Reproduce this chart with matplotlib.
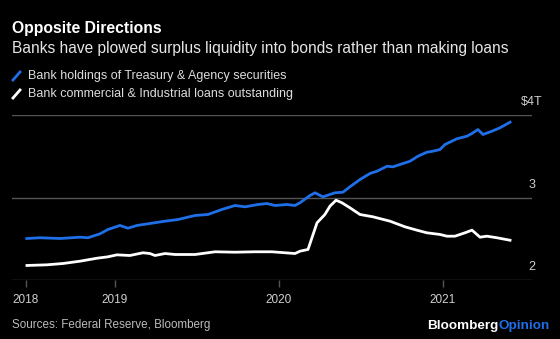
import matplotlib
matplotlib.use("Agg")
import matplotlib.pyplot as plt
from matplotlib.lines import Line2D

plt.rcParams['font.family'] = ['Liberation Sans', 'DejaVu Sans']

# bank holdings of Treasury & Agency securities ($T)
sec_x = [2018.462, 2018.543, 2018.665, 2018.787, 2018.835, 2018.909, 2018.957, 2019.030,
         2019.079, 2019.134, 2019.213, 2019.305, 2019.384, 2019.488, 2019.567, 2019.652,
         2019.732, 2019.793, 2019.872, 2019.927, 2019.976, 2020.049, 2020.098, 2020.128,
         2020.189, 2020.220, 2020.268, 2020.341, 2020.390, 2020.433, 2020.494, 2020.555,
         2020.598, 2020.659, 2020.695, 2020.738, 2020.799, 2020.848, 2020.902, 2020.939,
         2020.982, 2021.012, 2021.085, 2021.146, 2021.177, 2021.213, 2021.244, 2021.299,
         2021.348, 2021.409]
sec_y = [2.503, 2.512, 2.503, 2.519, 2.512, 2.560, 2.612, 2.661,
         2.628, 2.661, 2.685, 2.713, 2.733, 2.782, 2.794, 2.855,
         2.903, 2.887, 2.915, 2.927, 2.903, 2.915, 2.903, 2.936,
         3.024, 3.057, 3.008, 3.057, 3.064, 3.130, 3.218, 3.291,
         3.319, 3.379, 3.372, 3.400, 3.440, 3.501, 3.549, 3.561,
         3.582, 3.642, 3.712, 3.743, 3.776, 3.824, 3.764, 3.804,
         3.845, 3.913]

# commercial & industrial loans outstanding ($T)
loan_x = [2018.463, 2018.585, 2018.683, 2018.787, 2018.890, 2018.957, 2019.012, 2019.091,
          2019.171, 2019.213, 2019.244, 2019.305, 2019.366, 2019.488, 2019.610, 2019.732,
          2019.854, 2019.957, 2020.037, 2020.098, 2020.128, 2020.177, 2020.232, 2020.280,
          2020.311, 2020.348, 2020.384, 2020.433, 2020.494, 2020.573, 2020.677, 2020.768,
          2020.841, 2020.902, 2020.982, 2021.024, 2021.073, 2021.134, 2021.177, 2021.226,
          2021.268, 2021.329, 2021.409]
loan_y = [2.176, 2.184, 2.200, 2.228, 2.264, 2.281, 2.305, 2.297,
          2.330, 2.321, 2.297, 2.321, 2.309, 2.309, 2.342, 2.337,
          2.342, 2.342, 2.330, 2.321, 2.349, 2.370, 2.693, 2.794,
          2.895, 2.967, 2.936, 2.875, 2.794, 2.766, 2.713, 2.645,
          2.604, 2.572, 2.552, 2.531, 2.531, 2.572, 2.604, 2.519,
          2.531, 2.512, 2.482]

xticks = [2018.457, 2019, 2020, 2021]
xlabels = ['2018', '2019', '2020', '2021']
ylevels = [2, 3, 4]
ylabels = ['2', '3', '$4T']

BLUE = '#1f6fe8'
GRID = '#555555'

fig = plt.figure(figsize=(5.6, 3.39), dpi=100, facecolor='black')
ax = fig.add_axes([12 / 560, 1 - 280 / 339, 520 / 560, 165 / 339], facecolor='black')

for v in ylevels:
    ax.axhline(v, color=GRID, lw=1, zorder=1)
ax.plot(sec_x, sec_y, color=BLUE, lw=2, zorder=3, solid_joinstyle='round')
ax.plot(loan_x, loan_y, color='white', lw=2, zorder=3, solid_joinstyle='round')

ax.set_xlim(2018.372, 2021.543)
ax.set_ylim(2, 4)
for s in ax.spines.values():
    s.set_visible(False)
ax.set_yticks([])
ax.set_xticks(xticks)
ax.set_xticklabels(xlabels)
ax.tick_params(axis='x', colors=GRID, length=5, width=1, pad=5,
               labelcolor='#d0d0d0', labelsize=8.5)

tr = ax.get_yaxis_transform()
for v, lab in zip(ylevels, ylabels):
    ax.text(1.0, v + 0.08, lab, transform=tr, ha='center', va='bottom',
            color='#d0d0d0', fontsize=9)

fig.text(12 / 560, 1 - 29 / 339, 'Opposite Directions', color='white',
         fontsize=11.3, fontweight='bold', va='center')
fig.text(12 / 560, 1 - 48 / 339,
         'Banks have plowed surplus liquidity into bonds rather than making loans',
         color='#e6e6e6', fontsize=11.2, va='center')

for i, (c, lab) in enumerate([(BLUE, 'Bank holdings of Treasury & Agency securities'),
                              ('white', 'Bank commercial & Industrial loans outstanding')]):
    yc = 1 - (76 + 18 * i) / 339
    fig.add_artist(Line2D([13 / 560, 20 / 560], [yc - 4 / 339, yc + 4 / 339],
                          color=c, lw=2, transform=fig.transFigure))
    fig.text(28 / 560, yc, lab, color='#dddddd', fontsize=9, va='center')

fig.text(12 / 560, 1 - 325 / 339, 'Sources: Federal Reserve, Bloomberg',
         color='#bbbbbb', fontsize=8.4, va='center')
t = fig.text(427 / 560, 1 - 326 / 339, 'Bloomberg', color='white',
             fontsize=9.7, fontweight='bold', va='center')
fig.canvas.draw()
bb = t.get_window_extent()
fig.text(bb.x1 / fig.bbox.width, 1 - 326 / 339, 'Opinion', color=BLUE,
         fontsize=9.7, fontweight='bold', va='center')

fig.savefig('out.png', dpi=100, facecolor='black')
